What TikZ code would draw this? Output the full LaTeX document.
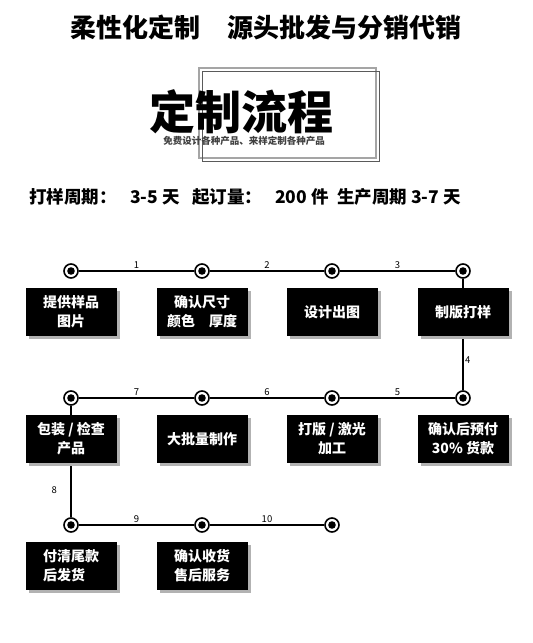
\documentclass[tikz,border=0pt]{standalone}
\usepackage{fontspec}
\usepackage{tikz}
\usetikzlibrary{positioning,shadows,backgrounds}
\setmainfont{Noto Sans CJK SC}
\newfontfamily\heavyfont{Noto Sans CJK SC Black}
\definecolor{frameGray}{RGB}{165,165,165}
\definecolor{frameDark}{RGB}{90,90,90}

\begin{document}
\begin{tikzpicture}[x=1pt,y=-1pt,
dot/.style={circle,draw,line width=1.6pt,fill=white,minimum size=14pt,inner sep=0pt,
  path picture={\fill[black] (path picture bounding box.center) circle (3.8pt);}},
stepbox/.style={fill=black,text=white,font=\bfseries\fontsize{14}{19}\selectfont,align=center,
  minimum width=91pt,minimum height=48pt,inner sep=2pt,
  drop shadow={shadow xshift=3pt,shadow yshift=-3pt,fill=black!30,opacity=1}},
lnk/.style={line width=1.3pt},
num/.style={font=\fontsize{9.5}{10}\selectfont,inner sep=1.5pt}
]
\useasboundingbox (0,0) rectangle (533,643);
\node[font=\bfseries\fontsize{26}{30}\selectfont] (title) at (266,27) {柔性化定制\hspace{28pt}源头批发与分销代销};
\draw[frameGray,line width=1.2pt] (199,68) rectangle (376,158);
\draw[frameDark,line width=1pt] (202,71) rectangle (379,161);
\node[font=\heavyfont\fontsize{46}{50}\selectfont,inner sep=0pt] (head) at (241,112) {定制流程};
\node[font=\bfseries\fontsize{9.5}{11}\selectfont,text=black!75,inner sep=0pt] (sub) at (244,141) {免费设计各种产品、来样定制各种产品};
\node[font=\bfseries\fontsize{17.5}{20}\selectfont,inner sep=0pt,anchor=west] (info) at (29,197)
  {\makebox[101pt][l]{打样周期：}\makebox[62pt][l]{3-5 天}\makebox[83pt][l]{起订量：}\makebox[62pt][l]{200 件}生产周期 3-7 天};

\foreach \n/\x/\y in {1/71/271,2/202/271,3/332/271,4/463/271,5/463/398,6/332/398,7/202/398,8/71/398,9/71/525,10/202/525,11/332/525}
  \node[dot] (c\n) at (\x,\y) {};

\node[stepbox,below=9pt of c1] (b1) {提供样品\\图片};
\node[stepbox,below=9pt of c2] (b2) {确认尺寸\\颜色\hspace{14pt}厚度};
\node[stepbox,below=9pt of c3] (b3) {设计出图};
\node[stepbox,below=9pt of c4] (b4) {制版打样};
\node[stepbox,below=9pt of c5] (b5) {确认后预付\\30\% 货款};
\node[stepbox,below=9pt of c6] (b6) {打版 / 激光\\加工};
\node[stepbox,below=9pt of c7] (b7) {大批量制作};
\node[stepbox,below=9pt of c8] (b8) {包装 / 检查\\产品};
\node[stepbox,below=9pt of c9,align=left] (b9) {付清尾款\\后发货};
\node[stepbox,below=9pt of c10] (b10) {确认收货\\售后服务};

\begin{scope}[on background layer]
\foreach \a/\b/\t in {1/2/1,2/3/2,3/4/3,6/5/5,7/6/6,8/7/7,9/10/9,10/11/10}
  \draw[lnk] (c\a) -- node[num,above] {\t} (c\b);
\draw[lnk] (c4) -- node[num,right,pos=0.73] {4} (c5);
\draw[lnk] (c8) -- node[num,left=12pt,pos=0.76] {8} (c9);
\end{scope}
\end{tikzpicture}
\end{document}
